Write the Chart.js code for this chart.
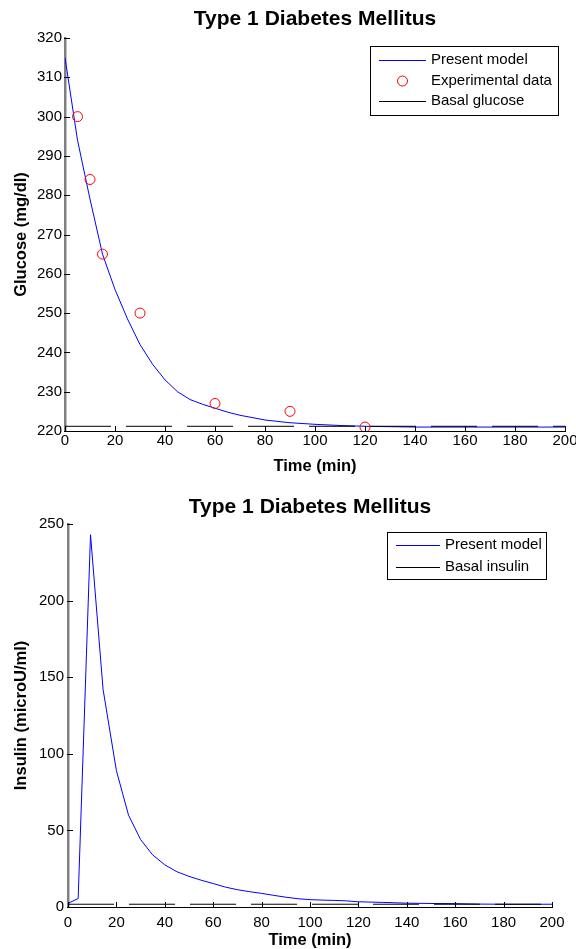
<!DOCTYPE html>
<html>
<head>
<meta charset="utf-8">
<title>Type 1 Diabetes Mellitus</title>
<script src="https://cdn.jsdelivr.net/npm/chart.js@4.4.0/dist/chart.umd.min.js"></script>
<style>
  html, body { margin: 0; padding: 0; background: #fff; }
  body { width: 576px; height: 949px; position: relative; overflow: hidden; }
  canvas { position: absolute; left: 0; }
  #glucoseChart { top: 0; }
  #insulinChart { top: 484px; }
</style>
</head>
<body>
<canvas id="glucoseChart" width="576" height="480"></canvas>
<canvas id="insulinChart" width="576" height="465"></canvas>
<script>
// --- data ---
const glucoseTime = [0, 5, 10, 15, 20, 25, 30, 35, 40, 45, 50, 55, 60, 65, 70, 80, 90, 100, 110, 120, 130, 140, 150, 160, 170, 180, 190, 200];
const glucoseModel = [315, 294, 279, 265, 256, 248.5, 242, 237, 233, 230, 228, 226.8, 225.8, 224.8, 224, 222.8, 222.1, 221.7, 221.4, 221.2, 221.1, 221, 221, 221, 221, 221, 221, 221];
const expTime = [5, 10, 15, 30, 60, 90, 120];
const expGlucose = [300, 284, 265, 250, 227, 225, 221];
const basalTime = [0, 200];
const basalGlucose = [221.2, 221.2];

const insulinTime = [0, 4.2, 9.3, 14.5, 20, 25, 30, 35, 40, 45, 50, 55, 60, 65, 70, 75, 80, 85, 90, 95, 100, 105, 110, 115, 120, 130, 140, 150, 160, 170, 180, 190, 200];
const insulinModel = [2.4, 5.5, 243, 142, 89, 60, 44, 34, 27.5, 23, 20, 17.5, 15.3, 13, 11.3, 10, 8.9, 7.6, 6.4, 5.4, 4.8, 4.5, 4.3, 4, 3.4, 3, 2.5, 2.3, 2.2, 1.9, 1.8, 1.8, 1.8];
const basalInsulin = [1.8, 1.8];

const xTicks = [0, 20, 40, 60, 80, 100, 120, 140, 160, 180, 200];
const glucoseTicks = [220, 230, 240, 250, 260, 270, 280, 290, 300, 310, 320];
const insulinTicks = [0, 50, 100, 150, 200, 250];

const FONT = "'Liberation Sans', Arial, Helvetica, sans-serif";
Chart.defaults.font.family = FONT;
Chart.defaults.color = '#000';

const pts = (xs, ys) => xs.map((x, i) => ({ x: x, y: ys[i] }));

// title, inward tick marks and boxed legend, MATLAB style
const decorations = {
  id: 'decorations',
  afterDraw(chart, args, opts) {
    const ctx = chart.ctx;
    const { left, right, bottom } = chart.chartArea;
    const xs = chart.scales.x, ys = chart.scales.y;
    ctx.save();

    ctx.strokeStyle = '#000';
    ctx.lineWidth = 1;
    xs.ticks.forEach(t => {
      const px = Math.round(xs.getPixelForValue(t.value)) + 0.5;
      ctx.beginPath();
      ctx.moveTo(px, bottom + 1);
      ctx.lineTo(px, bottom - 5);
      ctx.stroke();
    });
    ys.ticks.forEach(t => {
      const py = Math.round(ys.getPixelForValue(t.value)) + 0.5;
      ctx.beginPath();
      ctx.moveTo(left - 1, py);
      ctx.lineTo(left + 5, py);
      ctx.stroke();
    });

    ctx.fillStyle = '#000';
    ctx.font = 'bold 21px ' + FONT;
    ctx.textAlign = 'center';
    ctx.textBaseline = 'middle';
    ctx.fillText(opts.title, (left + right) / 2, opts.titleY);

    // legend
    const b = opts.box;
    ctx.fillStyle = '#fff';
    ctx.fillRect(b.x, b.y, b.w, b.h);
    ctx.strokeStyle = '#000';
    ctx.strokeRect(b.x + 0.5, b.y + 0.5, b.w, b.h);
    ctx.font = '15px ' + FONT;
    ctx.textAlign = 'left';
    opts.items.forEach((idx, i) => {
      const ds = chart.data.datasets[idx];
      const y = opts.rowY[i];
      ctx.setLineDash([]);
      if (ds.showLine === false) {
        ctx.beginPath();
        ctx.strokeStyle = ds.pointBorderColor;
        ctx.arc((opts.lineX[0] + opts.lineX[1]) / 2, y, ds.pointRadius, 0, Math.PI * 2);
        ctx.stroke();
      } else {
        ctx.beginPath();
        ctx.strokeStyle = ds.borderColor;
        ctx.moveTo(opts.lineX[0], y + 0.5);
        ctx.lineTo(opts.lineX[1], y + 0.5);
        ctx.stroke();
      }
      ctx.fillStyle = '#000';
      ctx.fillText(ds.label, opts.textX, y);
    });
    ctx.restore();
  }
};

function scales(o) {
  return {
    x: {
      type: 'linear', min: 0, max: 200,
      afterBuildTicks: s => { s.ticks = xTicks.map(v => ({ value: v })); },
      ticks: { font: { size: 15 }, padding: o.xTickPad, maxRotation: 0, autoSkip: false },
      grid: { display: false, drawTicks: false },
      border: { display: true, color: '#000', width: 1 },
      title: { display: true, text: 'Time (min)', font: { size: 16.5, weight: 'bold', lineHeight: 1 }, padding: { top: 0, bottom: o.xTitlePad } },
      afterFit: s => { s.height = o.xHeight; s.paddingLeft = 0; s.paddingRight = 0; }
    },
    y: {
      type: 'linear', min: o.yMin, max: o.yMax,
      afterBuildTicks: s => { s.ticks = o.yTicks.map(v => ({ value: v })); },
      ticks: { font: { size: 15 }, padding: o.yTickPad },
      grid: { display: false, drawTicks: false },
      border: { display: true, color: '#808080', width: 2.5 },
      title: { display: true, text: o.yTitle, font: { size: 16.5, weight: 'bold', lineHeight: 1 }, padding: { top: 13, bottom: 0 } },
      afterFit: s => { s.width = o.yWidth; s.paddingTop = 0; s.paddingBottom = 0; }
    }
  };
}

new Chart(document.getElementById('glucoseChart'), {
  type: 'line',
  data: {
    datasets: [
      { label: 'Present model', data: pts(glucoseTime, glucoseModel), borderColor: '#0000ff', borderWidth: 1, pointRadius: 0, tension: 0, order: 2 },
      { label: 'Experimental data', data: pts(expTime, expGlucose), showLine: false, pointStyle: 'circle', pointRadius: 5, pointBorderColor: '#ff0000', pointBackgroundColor: 'rgba(0,0,0,0)', pointBorderWidth: 1, order: 0 },
      { label: 'Basal glucose', data: pts(basalTime, basalGlucose), borderColor: '#000', borderWidth: 1, borderDash: [46, 15], pointRadius: 0, order: 1 }
    ]
  },
  options: {
    responsive: false, animation: false, events: [],
    layout: { padding: { top: 38, right: 11, left: 0, bottom: 0 } },
    scales: scales({ yMin: 220, yMax: 320, yTicks: glucoseTicks, yTitle: 'Glucose (mg/dl)', yWidth: 65, yTickPad: 3, xHeight: 49, xTickPad: 1, xTitlePad: 5 }),
    plugins: {
      legend: { display: false }, title: { display: false }, tooltip: { enabled: false },
      decorations: { title: 'Type 1 Diabetes Mellitus', titleY: 19, box: { x: 370, y: 46, w: 188, h: 69 }, items: [0, 1, 2], rowY: [60, 81, 101], lineX: [379, 426], textX: 431 }
    }
  },
  plugins: [decorations]
});

new Chart(document.getElementById('insulinChart'), {
  type: 'line',
  data: {
    datasets: [
      { label: 'Present model', data: pts(insulinTime, insulinModel), borderColor: '#0000ff', borderWidth: 1, pointRadius: 0, tension: 0, order: 2 },
      { label: 'Basal insulin', data: pts(basalTime, basalInsulin), borderColor: '#000', borderWidth: 1, borderDash: [46, 15], pointRadius: 0, order: 1 }
    ]
  },
  options: {
    responsive: false, animation: false, events: [],
    layout: { padding: { top: 40, right: 24, left: 0, bottom: 0 } },
    scales: scales({ yMin: 0, yMax: 250, yTicks: insulinTicks, yTitle: 'Insulin (microU/ml)', yWidth: 68, yTickPad: 4, xHeight: 42, xTickPad: 7, xTitlePad: 0 }),
    plugins: {
      legend: { display: false }, title: { display: false }, tooltip: { enabled: false },
      decorations: { title: 'Type 1 Diabetes Mellitus', titleY: 23, box: { x: 387, y: 48, w: 159, h: 47 }, items: [0, 1], rowY: [61, 83], lineX: [396, 440], textX: 445 }
    }
  },
  plugins: [decorations]
});
</script>
</body>
</html>
